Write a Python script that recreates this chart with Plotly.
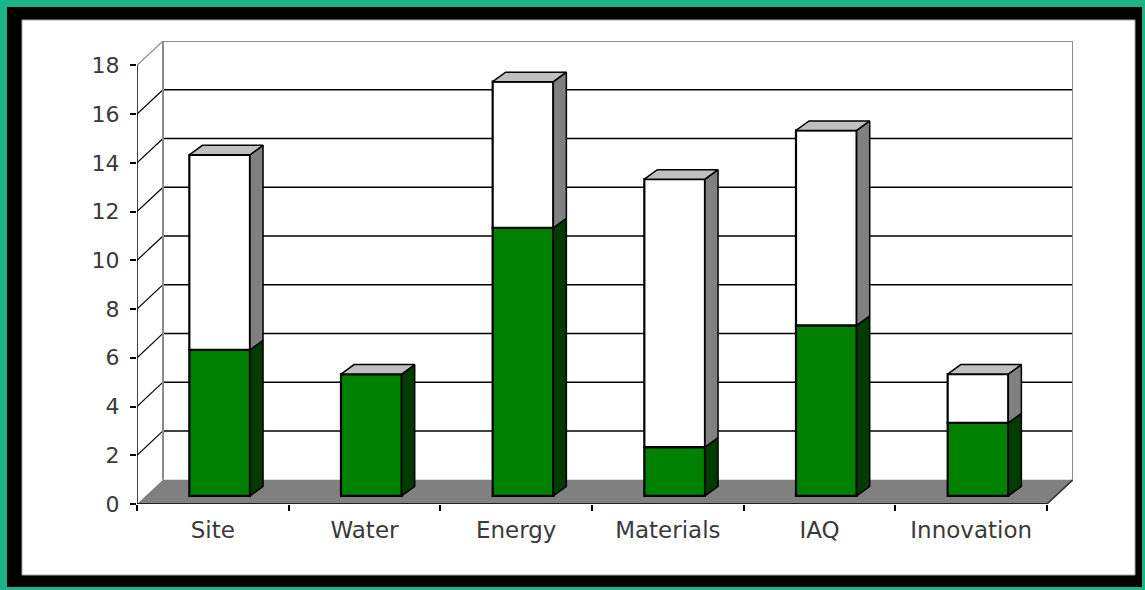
import plotly.graph_objects as go

# ---- data ----
categories = ["Site", "Water", "Energy", "Materials", "IAQ", "Innovation"]
achieved = [6, 5, 11, 2, 7, 3]          # green (lower) series
remaining = [8, 0, 6, 11, 8, 2]         # white (upper) series
y_ticks = [0, 2, 4, 6, 8, 10, 12, 14, 16, 18]

# ---- pseudo-3D geometry (in data units) ----
N = len(categories)
YMAX = 18
DX, DY = 0.1714, 1.0          # depth of the whole chart box
OFF_X, OFF_Y = 0.045, 0.33    # front face of the bars inside the box
BW = 0.40                      # bar width
BDX, BDY = 0.086, 0.39         # bar depth

GREEN, GREEN_SIDE = "#008000", "#003c00"
WHITE, WHITE_SIDE = "#ffffff", "#808080"
TOP = "#c0c0c0"
FLOOR = "#808080"
WALL_EDGE = "#8c8c8c"
TEXT = "#3a3a3a"

# plot area in pixels (for the frame decoration)
W, H = 1145, 590
L, R, T, B = 137, 72, 41, 86
PW, PH = W - L - R, H - T - B


def px(x):
    return (x - L) / PW


def py(y):
    return (H - B - y) / PH


fig = go.Figure()

shapes = []
# frame: black border and white panel (paper coordinates)
shapes.append(dict(type="rect", xref="paper", yref="paper", layer="below",
                   x0=px(7), x1=px(1142), y0=py(587), y1=py(7),
                   fillcolor="black", line=dict(width=0)))
shapes.append(dict(type="rect", xref="paper", yref="paper", layer="below",
                   x0=px(22), x1=px(1135), y0=py(575), y1=py(20),
                   fillcolor="white", line=dict(color="#a8a8a8", width=1)))

# floor
shapes.append(dict(type="path", xref="x", yref="y", layer="below",
                   path=f"M 0,0 L {N},0 L {N+DX},{DY} L {DX},{DY} Z",
                   fillcolor=FLOOR, line=dict(width=0)))
shapes.append(dict(type="line", xref="x", yref="y", layer="below",
                   x0=N, y0=0, x1=N + DX, y1=DY, line=dict(color="#303030", width=1.5)))

# walls gridlines
for v in y_ticks[1:]:
    col = WALL_EDGE if v == YMAX else "black"
    wid = 2 if v == YMAX else 1.5
    shapes.append(dict(type="line", xref="x", yref="y", layer="below",
                       x0=0, y0=v, x1=DX, y1=v + DY, line=dict(color=col, width=1.2)))
    shapes.append(dict(type="line", xref="x", yref="y", layer="below",
                       x0=DX, y0=v + DY, x1=N + DX, y1=v + DY, line=dict(color=col, width=wid)))
# wall vertical edges
for xv in (DX, N + DX):
    shapes.append(dict(type="line", xref="x", yref="y", layer="below",
                       x0=xv, y0=DY, x1=xv, y1=YMAX + DY, line=dict(color=WALL_EDGE, width=2)))

# front axes lines
shapes.append(dict(type="line", xref="x", yref="y", layer="above",
                   x0=0, y0=0, x1=N, y1=0, line=dict(color="black", width=1.5)))
shapes.append(dict(type="line", xref="x", yref="y", layer="above",
                   x0=0, y0=0, x1=0, y1=YMAX, line=dict(color="black", width=1.5)))

# ---- bars: front faces ----
xc = [i + 0.5 + OFF_X for i in range(N)]
fig.add_trace(go.Bar(x=xc, y=achieved, base=[OFF_Y] * N, width=BW,
                     marker=dict(color=GREEN, line=dict(color="black", width=2.2)),
                     showlegend=False, hoverinfo="skip"))
fig.add_trace(go.Bar(x=xc, y=remaining, base=[OFF_Y + a for a in achieved], width=BW,
                     marker=dict(color=WHITE, line=dict(color="black", width=2.2)),
                     showlegend=False, hoverinfo="skip"))

# ---- bars: side and top faces ----
def side_polys(bases, vals):
    xs, ys = [], []
    for i in range(N):
        if vals[i] <= 0:
            continue
        xr = xc[i] + BW / 2
        b = bases[i]
        t = b + vals[i]
        xs += [xr, xr + BDX, xr + BDX, xr, xr, None]
        ys += [b, b + BDY, t + BDY, t, b, None]
    return xs, ys


gx, gy = side_polys([OFF_Y] * N, achieved)
fig.add_trace(go.Scatter(x=gx, y=gy, mode="lines", fill="toself", fillcolor=GREEN_SIDE,
                         line=dict(color="black", width=1.5), showlegend=False, hoverinfo="skip"))
wx, wy = side_polys([OFF_Y + a for a in achieved], remaining)
fig.add_trace(go.Scatter(x=wx, y=wy, mode="lines", fill="toself", fillcolor=WHITE_SIDE,
                         line=dict(color="black", width=1.5), showlegend=False, hoverinfo="skip"))

tx, ty = [], []
for i in range(N):
    xl = xc[i] - BW / 2
    xr = xc[i] + BW / 2
    t = OFF_Y + achieved[i] + remaining[i]
    tx += [xl, xr, xr + BDX, xl + BDX, xl, None]
    ty += [t, t, t + BDY, t + BDY, t, None]
fig.add_trace(go.Scatter(x=tx, y=ty, mode="lines", fill="toself", fillcolor=TOP,
                         line=dict(color="black", width=1.5), showlegend=False, hoverinfo="skip"))

fig.update_layout(
    width=W, height=H,
    margin=dict(l=L, r=R, t=T, b=B),
    paper_bgcolor="#1db388",
    plot_bgcolor="rgba(0,0,0,0)",
    barmode="overlay",
    shapes=shapes,
    showlegend=False,
    xaxis=dict(range=[0, N + DX], showgrid=False, zeroline=False, showline=False,
               tickvals=[i + 0.5 for i in range(N)], ticktext=categories,
               ticks="", ticklabelstandoff=10,
               tickfont=dict(family="DejaVu Sans", size=23, color=TEXT),
               minor=dict(tickvals=list(range(N + 1)), ticks="outside", ticklen=6,
                          tickcolor="black", tickwidth=1.5, showgrid=False),
               fixedrange=True),
    yaxis=dict(range=[0, YMAX + DY], showgrid=False, zeroline=False, showline=False,
               tickvals=y_ticks, ticks="outside", ticklen=6, tickcolor="black", tickwidth=1.5,
               ticklabelstandoff=6,
               tickfont=dict(family="DejaVu Sans", size=22, color=TEXT),
               fixedrange=True),
)

fig.write_html("out.html")
